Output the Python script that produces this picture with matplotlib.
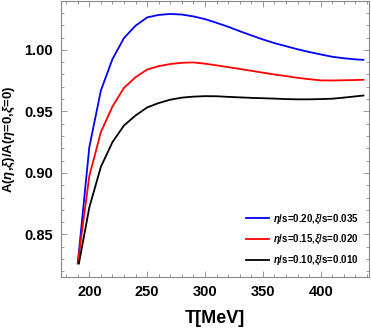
import matplotlib
matplotlib.use("Agg")
import matplotlib.pyplot as plt
from matplotlib.ticker import MultipleLocator

T = [190, 200, 210, 220, 230, 240, 250, 260, 270, 280, 290, 300, 310, 320,
     330, 340, 350, 360, 370, 380, 390, 400, 410, 420, 430, 437]
T_black = [191] + T[1:]

blue = [0.8265, 0.921, 0.967, 0.9925, 1.0097, 1.0197, 1.0264, 1.0284, 1.0292,
        1.0287, 1.0272, 1.0250, 1.0220, 1.0188, 1.0152, 1.0118, 1.0085, 1.0055,
        1.0030, 1.0005, 0.9983, 0.9963, 0.9944, 0.9932, 0.9923, 0.9919]
red = [0.8265, 0.8975, 0.9332, 0.954, 0.9692, 0.9778, 0.984, 0.9868, 0.9885,
       0.9895, 0.9898, 0.9888, 0.9874, 0.9860, 0.9845, 0.9830, 0.9815, 0.9800,
       0.9787, 0.9773, 0.9762, 0.9752, 0.9751, 0.9753, 0.9755, 0.9757]
black = [0.8264, 0.872, 0.905, 0.925, 0.9386, 0.9467, 0.9532, 0.9568, 0.9595,
         0.9612, 0.9620, 0.9624, 0.9623, 0.9618, 0.9614, 0.9610, 0.9607, 0.9604,
         0.9600, 0.9598, 0.9598, 0.9600, 0.9603, 0.9612, 0.9622, 0.9629]

labels = [r"$\eta$/s=0.20,$\xi$/s=0.035",
          r"$\eta$/s=0.15,$\xi$/s=0.020",
          r"$\eta$/s=0.10,$\xi$/s=0.010"]

plt.rcParams['font.family'] = ['Liberation Sans', 'DejaVu Sans']
plt.rcParams['font.weight'] = 'bold'
plt.rcParams['mathtext.fontset'] = 'custom'
plt.rcParams['mathtext.it'] = 'Liberation Sans:italic:bold'
plt.rcParams['mathtext.rm'] = 'Liberation Sans:bold'

fig = plt.figure(figsize=(3.71, 3.30), dpi=100)
ax = fig.add_axes([0.1644, 0.1606, 0.8302, 0.8374])

ax.plot(T, blue, color=(0, 0, 1), lw=1.3, label=labels[0])
ax.plot(T, red, color=(1, 0, 0), lw=1.3, label=labels[1])
ax.plot(T_black, black, color='black', lw=1.3, label=labels[2])

ax.set_xlim(175.5, 441.8)
ax.set_ylim(0.8154, 1.040)

ax.xaxis.set_major_locator(MultipleLocator(50))
ax.xaxis.set_minor_locator(MultipleLocator(10))
ax.yaxis.set_major_locator(MultipleLocator(0.05))
ax.yaxis.set_minor_locator(MultipleLocator(0.01))
ax.yaxis.set_major_formatter(matplotlib.ticker.FormatStrFormatter('%.2f'))

for s in ax.spines.values():
    s.set_color('#888888')
    s.set_linewidth(0.8)
ax.tick_params(which='both', direction='in', top=True, right=True,
               color='#888888', width=0.6)
ax.tick_params(which='major', length=4, labelsize=10.5, pad=6)
ax.tick_params(which='minor', length=2)
for lab in ax.get_xticklabels() + ax.get_yticklabels():
    lab.set_fontweight('bold')

ax.set_xlabel('T[MeV]', fontsize=13, fontweight='bold', labelpad=8)
ax.set_ylabel(r"A($\eta$,$\xi$)/A($\eta$=0,$\xi$=0)", fontsize=9.5,
              fontweight='bold', labelpad=5)

leg = ax.legend(loc='lower right', frameon=False, fontsize=7,
                handlelength=2.3, handletextpad=0.5, labelspacing=0.75,
                borderaxespad=0.6)
for t in leg.get_texts():
    t.set_fontweight('bold')

fig.savefig('out.png', dpi=100)
